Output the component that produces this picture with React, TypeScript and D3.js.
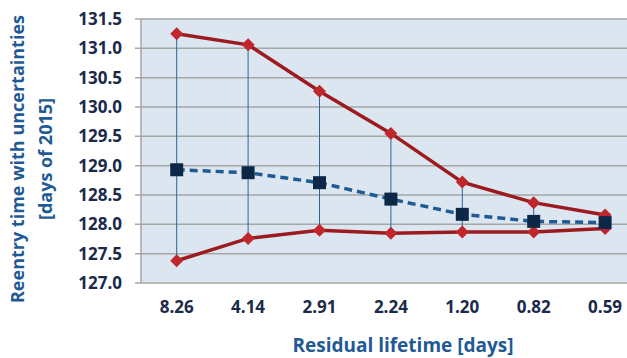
import React from "react";
import * as d3 from "d3";

const categories = ["8.26", "4.14", "2.91", "2.24", "1.20", "0.82", "0.59"];
const upperValues = [131.25, 131.06, 130.27, 129.55, 128.72, 128.37, 128.16];
const meanValues = [128.93, 128.88, 128.71, 128.43, 128.17, 128.05, 128.03];
const lowerValues = [127.38, 127.76, 127.9, 127.85, 127.87, 127.87, 127.93];
const yTicks = [127.0, 127.5, 128.0, 128.5, 129.0, 129.5, 130.0, 130.5, 131.0, 131.5];

const W = 627;
const H = 358;
const left = 141;
const top = 19;
const bottom = 283;
const step = 71.4;

export default function App() {
  const x = d3
    .scalePoint<string>()
    .domain(categories)
    .range([left + step / 2, left + step / 2 + step * (categories.length - 1)]);
  const y = d3.scaleLinear().domain([127, 131.5]).range([bottom, top]);
  const line = d3
    .line<number>()
    .x((_, i) => x(categories[i]) as number)
    .y((d) => y(d));
  const font = "'Open Sans', sans-serif";
  const diamond = (cx: number, cy: number, r: number) =>
    `M${cx},${cy - r}L${cx + r},${cy}L${cx},${cy + r}L${cx - r},${cy}Z`;

  return (
    <svg
      width={W}
      height={H}
      style={{ position: "absolute", left: 0, top: 0, background: "#fff" }}
    >
      <rect x={left} y={top} width={W - left} height={bottom - top} fill="#dce6f1" />
      {yTicks.map((t) => (
        <g key={t}>
          <line
            x1={left - 6}
            x2={W}
            y1={y(t)}
            y2={y(t)}
            stroke="#a6a6a6"
            strokeWidth={1.5}
          />
          <text
            x={122}
            y={y(t)}
            dy="0.36em"
            textAnchor="end"
            fontFamily={font}
            fontWeight="bold"
            fontSize={17}
            fill="#1b2a4a"
          >
            {t.toFixed(1)}
          </text>
        </g>
      ))}
      <line x1={left} x2={left} y1={top} y2={bottom} stroke="#a6a6a6" strokeWidth={1.5} />
      {categories.map((c, i) => (
        <line
          key={"v" + c}
          x1={x(c)}
          x2={x(c)}
          y1={y(upperValues[i])}
          y2={y(lowerValues[i])}
          stroke="#2c6699"
          strokeWidth={1}
        />
      ))}
      <path d={line(upperValues) || ""} fill="none" stroke="#9c1b1f" strokeWidth={3.5} />
      <path d={line(lowerValues) || ""} fill="none" stroke="#9c1b1f" strokeWidth={3.5} />
      <path
        d={line(meanValues) || ""}
        fill="none"
        stroke="#1f5a94"
        strokeWidth={3.5}
        strokeDasharray="8,5"
      />
      {categories.map((c, i) => (
        <g key={"m" + c}>
          <path d={diamond(x(c) as number, y(upperValues[i]), 6.5)} fill="#c0272d" />
          <path d={diamond(x(c) as number, y(lowerValues[i]), 6.5)} fill="#c0272d" />
          <rect
            x={(x(c) as number) - 6.5}
            y={y(meanValues[i]) - 6.5}
            width={13}
            height={13}
            fill="#0d2847"
          />
        </g>
      ))}
      {categories.map((c) => (
        <text
          key={"x" + c}
          x={x(c)}
          y={307}
          dy="0.36em"
          textAnchor="middle"
          fontFamily={font}
          fontWeight="bold"
          fontSize={17}
          fill="#1b2a4a"
        >
          {c}
        </text>
      ))}
      <text
        x={403}
        y={345}
        dy="0.36em"
        textAnchor="middle"
        fontFamily={font}
        fontWeight="bold"
        fontSize={19}
        fill="#1f5a94"
      >
        Residual lifetime [days]
      </text>
      <g transform="translate(0,159) rotate(-90)">
        <text
          x={0}
          y={18}
          dy="0.36em"
          textAnchor="middle"
          fontFamily={font}
          fontWeight="bold"
          fontSize={18}
          fill="#1f5a94"
        >
          Reentry time with uncertainties
        </text>
        <text
          x={0}
          y={46}
          dy="0.36em"
          textAnchor="middle"
          fontFamily={font}
          fontWeight="bold"
          fontSize={18}
          fill="#1f5a94"
        >
          [days of 2015]
        </text>
      </g>
    </svg>
  );
}
